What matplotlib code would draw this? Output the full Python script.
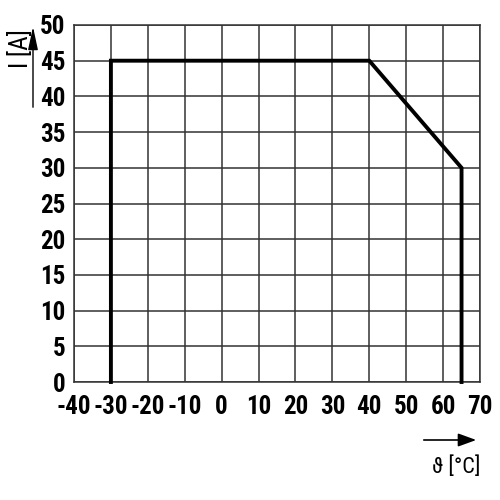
import matplotlib
matplotlib.use("Agg")
import matplotlib.pyplot as plt
from matplotlib import font_manager

# -----------------------------
# Data
# -----------------------------
temp = [-30, -30, 40, 65, 65]
current = [0, 45, 45, 30, 0]

x_ticks = [-40, -30, -20, -10, 0, 10, 20, 30, 40, 50, 60, 70]
y_ticks = [0, 5, 10, 15, 20, 25, 30, 35, 40, 45, 50]

# -----------------------------
# Pick a condensed font if one exists
# -----------------------------
fam, stretch, size = "Liberation Sans", "normal", 14
for f in font_manager.fontManager.ttflist:
    cond = ("Condensed" in f.name or "Narrow" in f.name
            or f.stretch in ("condensed", "semi-condensed", "extra-condensed"))
    if cond:
        fam = f.name
        stretch = f.stretch if isinstance(f.stretch, str) else "condensed"
        size = 18
        if "Roboto" in f.name or "Liberation" in f.name:
            break

fig = plt.figure(figsize=(5, 5), dpi=100)
ax = fig.add_axes([0.148, 0.236, 0.812, 0.714])

ax.plot(temp, current, color="black", linewidth=2.8, solid_joinstyle="miter",
        zorder=3, clip_on=False)

ax.set_xlim(-40, 70)
ax.set_ylim(0, 50)
ax.set_xticks(x_ticks)
ax.set_yticks(y_ticks)
tick_font = dict(fontfamily=fam, fontstretch=stretch, fontweight="bold",
                 fontsize=size)
ax.set_xticklabels([str(v) for v in x_ticks], **tick_font)
ax.set_yticklabels([str(v) for v in y_ticks], **tick_font)
ax.tick_params(axis="x", length=0, pad=9)
ax.tick_params(axis="y", length=0, pad=6)
ax.grid(True, color="#333333", linewidth=1.1)
for s in ax.spines.values():
    s.set_color("#333333")
    s.set_linewidth(1.1)

# axis labels with arrows
fig.text(0.042, 0.903, "I [A]", rotation=90, ha="center", va="center",
         fontfamily=fam, fontstretch=stretch, fontsize=18)
ax.annotate("", xy=(0.066, 0.952), xytext=(0.066, 0.78),
            xycoords="figure fraction",
            arrowprops=dict(arrowstyle="-|>,head_length=1.4,head_width=0.3",
                            color="black", lw=1))
ax.annotate("", xy=(0.958, 0.12), xytext=(0.842, 0.12),
            xycoords="figure fraction",
            arrowprops=dict(arrowstyle="-|>,head_length=1.1,head_width=0.4",
                            color="black", lw=1.2))
fig.text(0.913, 0.066, "ϑ [°C]", ha="center", va="center",
         fontfamily=fam, fontstretch=stretch, fontsize=16)

fig.savefig("out.png", dpi=100)
